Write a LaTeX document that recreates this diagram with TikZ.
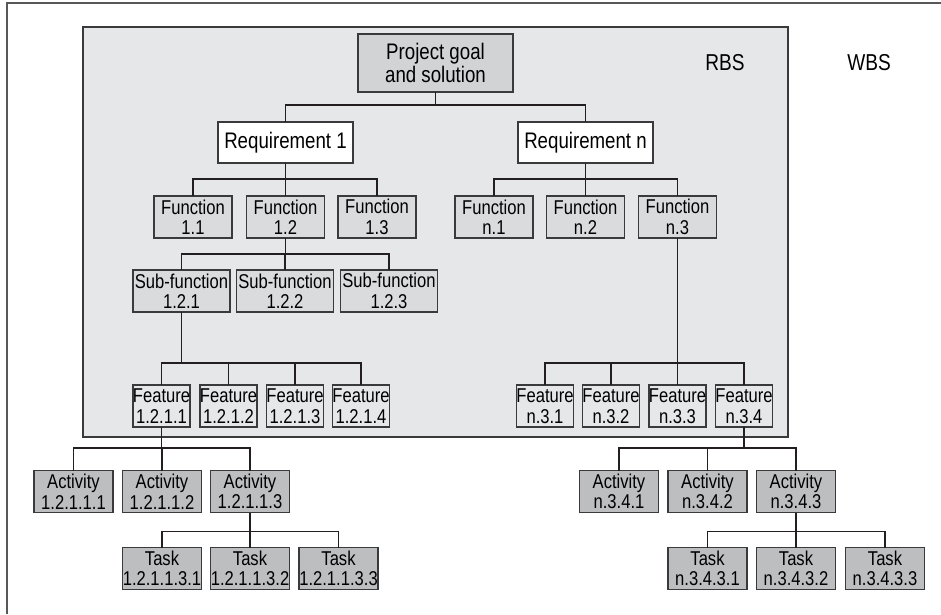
\documentclass[tikz,border=0pt]{standalone}
\usepackage{fontspec}
\setmainfont{Liberation Sans}[FakeStretch=0.83]
\usetikzlibrary{positioning}

\begin{document}
\begin{tikzpicture}[x=1pt,y=-1pt]
  % some colors
  \definecolor{rbsback}{HTML}{E6E7E8}
  \definecolor{goalback}{HTML}{D1D3D4}
  \definecolor{funback}{HTML}{DADBDD}
  \definecolor{actback}{HTML}{BCBEC0}
  \definecolor{boxline}{HTML}{3A3A3C}
  \definecolor{links}{HTML}{231F20}
  \definecolor{frameline}{HTML}{58585A}
  % some styles
  \tikzset{
    box/.style={
      draw=boxline,
      line width=1.4pt,
      fill=#1,
      inner sep=0pt,
      outer sep=0pt,
      align=center,
      minimum height=42pt,
      font=\fontsize{20}{20.5}\selectfont,
      text=black,
    },
    link/.style={draw=links,line width=1.9pt},
    label/.style={font=\fontsize{23}{25}\selectfont,text=black},
  }
  \useasboundingbox (0,0) rectangle (941,614);
  % frame and RBS area
  \draw[frameline,line width=1.8pt] (941,3) -- (7,3) -- (7,614);
  \draw[fill=rbsback,draw=boxline,line width=1.4pt] (83,27) rectangle (788,437);
  \node[label] (rbs-label) at (725,63) {RBS};
  \node[label] (wbs-label) at (869,63) {WBS};
  % top of the tree
  \node[box=goalback,minimum width=155pt,minimum height=58pt,
        font=\fontsize{22.5}{23}\selectfont] (goal) at (435.5,63)
        {Project goal\\and solution};
  \foreach \name/\x in {1/285.5,n/585.5} {
    \node[box=white,minimum width=135pt,minimum height=41pt,
          font=\fontsize{22.5}{23}\selectfont] (req-\name) at (\x,142.5)
          {Requirement \name};
    \draw[link] (goal.south) -- +(0,13) -| (req-\name.north);
  }
  % functions
  \foreach \i/\x in {1/193,2/285.5,3/377} {
    \node[box=funback,minimum width=78pt] (fun-1-\i) at (\x,217) {Function\\1.\i};
    \draw[link] (req-1.south) -- +(0,16) -| (fun-1-\i.north);
  }
  \foreach \i/\x in {1/494,2/585.5,3/677.5} {
    \node[box=funback,minimum width=78pt] (fun-n-\i) at (\x,217) {Function\\n.\i};
    \draw[link] (req-n.south) -- +(0,16) -| (fun-n-\i.north);
  }
  % sub-functions
  \foreach \i/\x in {1/181.5,2/285,3/389} {
    \node[box=funback,minimum width=97pt] (sub-\i) at (\x,291) {Sub-function\\1.2.\i};
    \draw[link] (fun-1-2.south) -- +(0,16) -| (sub-\i.north);
  }
  % features
  \foreach \i/\x in {1/161.5,2/228.5,3/295,4/361} {
    \node[box=rbsback,minimum width=57pt] (feat-1-\i) at (\x,406) {Feature\\1.2.1.\i};
    \draw[link] (sub-1.south) -- +(0,51) -| (feat-1-\i.north);
  }
  \foreach \i/\x in {1/545,2/611,3/677.5,4/744} {
    \node[box=rbsback,minimum width=57pt] (feat-n-\i) at (\x,406) {Feature\\n.3.\i};
    \draw[link] (fun-n-3.south) -- +(0,125) -| (feat-n-\i.north);
  }
  % activities (WBS)
  \foreach \i/\x in {1/73.5,2/162,3/250} {
    \node[box=actback,minimum width=79pt] (act-1-\i) at (\x,491.5) {Activity\\1.2.1.1.\i};
    \draw[link] (feat-1-1.south) -- +(0,21) -| (act-1-\i.north);
  }
  \foreach \i/\x in {1/619,2/707.5,3/796} {
    \node[box=actback,minimum width=79pt] (act-n-\i) at (\x,491.5) {Activity\\n.3.4.\i};
    \draw[link] (feat-n-4.south) -- +(0,21) -| (act-n-\i.north);
  }
  % tasks
  \foreach \i/\x in {1/162,2/250,3/338.5} {
    \node[box=actback,minimum width=79pt] (task-1-\i) at (\x,568.5) {Task\\1.2.1.1.3.\i};
    \draw[link] (act-1-3.south) -- +(0,19) -| (task-1-\i.north);
  }
  \foreach \i/\x in {1/707.5,2/796,3/885} {
    \node[box=actback,minimum width=79pt] (task-n-\i) at (\x,568.5) {Task\\n.3.4.3.\i};
    \draw[link] (act-n-3.south) -- +(0,19) -| (task-n-\i.north);
  }
\end{tikzpicture}
\end{document}
